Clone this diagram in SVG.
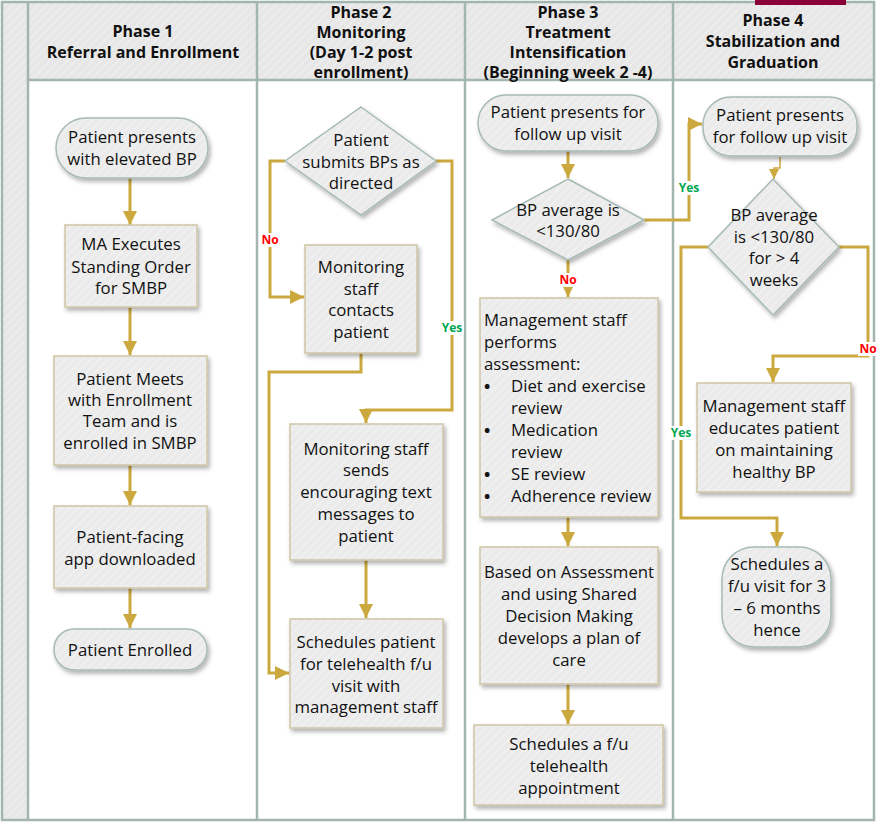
<svg xmlns="http://www.w3.org/2000/svg" width="884" height="824" viewBox="0 0 884 824">
<style>
.t{font-family:"Open Sans","Noto Sans",sans-serif;font-size:16.8px;fill:#111;text-anchor:middle}
.tl{font-family:"Open Sans","Noto Sans",sans-serif;font-size:16.8px;fill:#111}
.bu{font-family:"Open Sans","Noto Sans",sans-serif;font-size:16.8px;font-weight:bold;fill:#111}
.h{font-family:"Open Sans","Noto Sans",sans-serif;font-size:16px;font-weight:bold;fill:#111;text-anchor:middle}
.lane{fill:none;stroke:#A3B5B0;stroke-width:2.5}
.term{fill:url(#hatch);stroke:#A7BAB5;stroke-width:1.5}
.box{fill:url(#hatch);stroke:#CFC5A5;stroke-width:1.5}
.dia{fill:url(#hatch);stroke:#A7BAB5;stroke-width:1.5}
.c{fill:none;stroke:#CBA93E;stroke-width:3}
.yes{font-family:"Open Sans","Noto Sans",sans-serif;font-size:12px;font-weight:bold;fill:#00A651;text-anchor:middle}
.no{font-family:"Open Sans","Noto Sans",sans-serif;font-size:12px;font-weight:bold;fill:#FF0000;text-anchor:middle}
.lb{fill:#fff}
</style>
<defs>
<pattern id="hatch" width="6" height="6" patternUnits="userSpaceOnUse" patternTransform="rotate(45)">
<rect width="6" height="6" fill="#EBEBEB"/>
<line x1="0" y1="0" x2="0" y2="6" stroke="#F3F3F3" stroke-width="2"/>
</pattern>
<pattern id="hatchH" width="6" height="6" patternUnits="userSpaceOnUse" patternTransform="rotate(45)">
<rect width="6" height="6" fill="#E7E7E7"/>
<line x1="0" y1="0" x2="0" y2="6" stroke="#F0F0F0" stroke-width="2"/>
</pattern>
<filter id="sh" x="-10%" y="-10%" width="130%" height="130%">
<feDropShadow dx="2" dy="3" stdDeviation="2" flood-color="#000" flood-opacity="0.3"/>
</filter>
<marker id="arr" viewBox="0 0 10 10" refX="10" refY="5" markerWidth="14" markerHeight="14" markerUnits="userSpaceOnUse" orient="auto">
<path d="M0,0 L10,5 L0,10 z" fill="#CBA93E"/>
</marker>
<marker id="arrS" viewBox="0 0 10 10" refX="10" refY="5" markerWidth="10" markerHeight="10" markerUnits="userSpaceOnUse" orient="auto">
<path d="M0,0 L10,5 L0,10 z" fill="#CBA93E"/>
</marker>
</defs>
<rect width="884" height="824" fill="#fff"/>
<g id="lanes">
<rect x="2" y="2" width="26" height="818" fill="url(#hatchH)"/>
<rect x="28" y="2" width="846" height="78" fill="url(#hatchH)"/>
<rect class="lane" x="2" y="2" width="872" height="818"/>
<line class="lane" x1="28" y1="2" x2="28" y2="820"/>
<line class="lane" x1="257" y1="2" x2="257" y2="820"/>
<line class="lane" x1="465" y1="2" x2="465" y2="820"/>
<line class="lane" x1="673" y1="2" x2="673" y2="820"/>
<line class="lane" x1="28" y1="80" x2="874" y2="80"/>
<rect x="755" y="0" width="91" height="5" fill="#8A0038"/>
<text class="h" x="143" y="37">Phase 1</text>
<text class="h" x="143" y="58">Referral and Enrollment</text>
<text class="h" x="361" y="18">Phase 2</text>
<text class="h" x="361" y="38">Monitoring</text>
<text class="h" x="361" y="58">(Day 1-2 post</text>
<text class="h" x="361" y="78">enrollment)</text>
<text class="h" x="568" y="18">Phase 3</text>
<text class="h" x="568" y="38">Treatment</text>
<text class="h" x="568" y="58">Intensification</text>
<text class="h" x="568" y="78">(Beginning week 2 -4)</text>
<text class="h" x="773" y="26">Phase 4</text>
<text class="h" x="773" y="47">Stabilization and</text>
<text class="h" x="773" y="68">Graduation</text>
</g>
<g id="connectors">
<path class="c" d="M130,178 V225" marker-end="url(#arr)"/>
<path class="c" d="M130,307 V355" marker-end="url(#arr)"/>
<path class="c" d="M130,465 V505" marker-end="url(#arr)"/>
<path class="c" d="M130,588 V628" marker-end="url(#arr)"/>
<path class="c" d="M285,161 H270 V297 H304" marker-end="url(#arr)"/>
<path class="c" d="M436,161 H452 V410 H366 V423" marker-end="url(#arr)"/>
<path class="c" d="M361,353 V372 H269 V673 H289" marker-end="url(#arr)"/>
<path class="c" d="M366,560 V618" marker-end="url(#arr)"/>
<path class="c" d="M568,151 V178" marker-end="url(#arr)"/>
<path class="c" d="M644,220 H689 V124 H702" marker-end="url(#arr)"/>
<path class="c" d="M568,260 V297" marker-end="url(#arr)"/>
<path class="c" d="M568,517 V546" marker-end="url(#arr)"/>
<path class="c" d="M568,684 V724" marker-end="url(#arr)"/>
<path class="c" style="stroke-width:1.5" d="M780,156 V168 H774 V179" marker-end="url(#arrS)"/>
<path class="c" d="M839,247 H868 V356 H773 V382" marker-end="url(#arr)"/>
<path class="c" d="M708,247 H681 V518 H777 V546" marker-end="url(#arr)"/>
<rect class="lb" x="260" y="233" width="20" height="14"/>
<text class="no" x="270" y="244">No</text>
<rect class="lb" x="440" y="321" width="24" height="14"/>
<text class="yes" x="452" y="332">Yes</text>
<rect class="lb" x="677" y="181" width="24" height="14"/>
<text class="yes" x="689" y="192">Yes</text>
<rect class="lb" x="558" y="273" width="20" height="14"/>
<text class="no" x="568" y="284">No</text>
<rect class="lb" x="858" y="342" width="20" height="14"/>
<text class="no" x="868" y="353">No</text>
<rect class="lb" x="669" y="426" width="24" height="14"/>
<text class="yes" x="681" y="437">Yes</text>
</g>
<g id="n1">
<rect class="term" filter="url(#sh)" x="56" y="118" width="152" height="60" rx="30"/>
<text class="t" x="132" y="143">Patient presents</text>
<text class="t" x="132" y="165">with elevated BP</text>
</g>
<g id="n2">
<rect class="box" filter="url(#sh)" x="65" y="225" width="132" height="82"/>
<text class="t" x="131" y="250">MA Executes</text>
<text class="t" x="131" y="273">Standing Order</text>
<text class="t" x="131" y="294">for SMBP</text>
</g>
<g id="n3">
<rect class="box" filter="url(#sh)" x="54" y="356" width="153" height="109"/>
<text class="t" x="130" y="385">Patient Meets</text>
<text class="t" x="130" y="406">with Enrollment</text>
<text class="t" x="130" y="427">Team and is</text>
<text class="t" x="130" y="449">enrolled in SMBP</text>
</g>
<g id="n4">
<rect class="box" filter="url(#sh)" x="54" y="506" width="153" height="82"/>
<text class="t" x="130" y="543">Patient-facing</text>
<text class="t" x="130" y="565">app downloaded</text>
</g>
<g id="n5">
<rect class="term" filter="url(#sh)" x="54" y="629" width="153" height="41" rx="20"/>
<text class="t" x="130" y="656">Patient Enrolled</text>
</g>
<g id="n6">
<path class="dia" filter="url(#sh)" d="M361,107 L436,161 L361,215 L285,161 z"/>
<text class="t" x="361" y="146">Patient</text>
<text class="t" x="361" y="168">submits BPs as</text>
<text class="t" x="361" y="189">directed</text>
</g>
<g id="n7">
<rect class="box" filter="url(#sh)" x="305" y="245" width="112" height="108"/>
<text class="t" x="361" y="273">Monitoring</text>
<text class="t" x="361" y="295">staff</text>
<text class="t" x="361" y="316">contacts</text>
<text class="t" x="361" y="338">patient</text>
</g>
<g id="n8">
<rect class="box" filter="url(#sh)" x="290" y="424" width="153" height="136"/>
<text class="t" x="366" y="455">Monitoring staff</text>
<text class="t" x="366" y="476">sends</text>
<text class="t" x="366" y="498">encouraging text</text>
<text class="t" x="366" y="520">messages to</text>
<text class="t" x="366" y="542">patient</text>
</g>
<g id="n9">
<rect class="box" filter="url(#sh)" x="290" y="619" width="153" height="109"/>
<text class="t" x="366" y="648">Schedules patient</text>
<text class="t" x="366" y="670">for telehealth f/u</text>
<text class="t" x="366" y="692">visit with</text>
<text class="t" x="366" y="713">management staff</text>
</g>
<g id="n10">
<rect class="term" filter="url(#sh)" x="478" y="95" width="180" height="56" rx="28"/>
<text class="t" x="568" y="118">Patient presents for</text>
<text class="t" x="568" y="140">follow up visit</text>
</g>
<g id="n11">
<path class="dia" filter="url(#sh)" d="M568,179 L644,220 L568,260 L492,220 z"/>
<text class="t" x="568" y="216">BP average is</text>
<text class="t" x="568" y="237">&lt;130/80</text>
</g>
<g id="n12">
<rect class="box" filter="url(#sh)" x="480" y="298" width="178" height="219"/>
<text class="tl" x="484" y="326">Management staff</text>
<text class="tl" x="484" y="348">performs</text>
<text class="tl" x="484" y="370">assessment:</text>
<text class="bu" x="484" y="392">•</text>
<text class="tl" x="511" y="392">Diet and exercise</text>
<text class="tl" x="511" y="414">review</text>
<text class="bu" x="484" y="436">•</text>
<text class="tl" x="511" y="436">Medication</text>
<text class="tl" x="511" y="458">review</text>
<text class="bu" x="484" y="480">•</text>
<text class="tl" x="511" y="480">SE review</text>
<text class="bu" x="484" y="502">•</text>
<text class="tl" x="511" y="502">Adherence review</text>
</g>
<g id="n13">
<rect class="box" filter="url(#sh)" x="480" y="547" width="178" height="137"/>
<text class="t" x="569" y="578">Based on Assessment</text>
<text class="t" x="569" y="600">and using Shared</text>
<text class="t" x="569" y="622">Decision Making</text>
<text class="t" x="569" y="644">develops a plan of</text>
<text class="t" x="569" y="666">care</text>
</g>
<g id="n14">
<rect class="box" filter="url(#sh)" x="474" y="725" width="189" height="80"/>
<text class="t" x="569" y="750">Schedules a f/u</text>
<text class="t" x="569" y="772">telehealth</text>
<text class="t" x="569" y="794">appointment</text>
</g>
<g id="n15">
<rect class="term" filter="url(#sh)" x="703" y="97" width="154" height="59" rx="28"/>
<text class="t" x="780" y="121">Patient presents</text>
<text class="t" x="780" y="143">for follow up visit</text>
</g>
<g id="n16">
<path class="dia" filter="url(#sh)" d="M773,179 L839,247 L773,315 L708,247 z"/>
<text class="t" x="774" y="221">BP average</text>
<text class="t" x="774" y="243">is &lt;130/80</text>
<text class="t" x="774" y="264">for &gt; 4</text>
<text class="t" x="774" y="286">weeks</text>
</g>
<g id="n17">
<rect class="box" filter="url(#sh)" x="697" y="383" width="154" height="109"/>
<text class="t" x="774" y="412">Management staff</text>
<text class="t" x="774" y="434">educates patient</text>
<text class="t" x="774" y="456">on maintaining</text>
<text class="t" x="774" y="478">healthy BP</text>
</g>
<g id="n18">
<rect class="term" filter="url(#sh)" x="722" y="547" width="109" height="100" rx="32"/>
<text class="t" x="777" y="570">Schedules a</text>
<text class="t" x="777" y="592">f/u visit for 3</text>
<text class="t" x="777" y="614">– 6 months</text>
<text class="t" x="777" y="636">hence</text>
</g>
</svg>
